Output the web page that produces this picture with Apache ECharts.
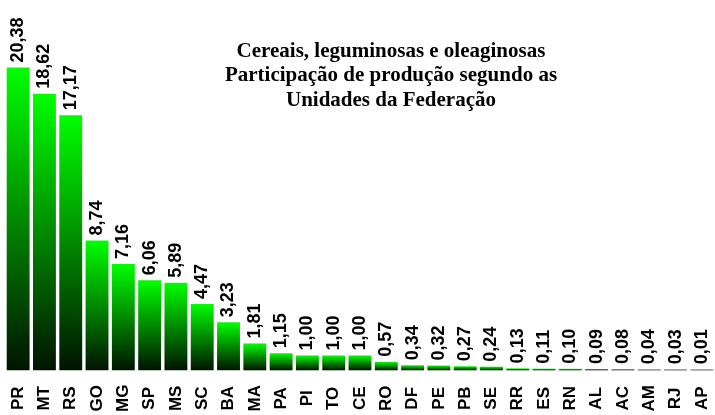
<!DOCTYPE html>
<html><head><meta charset="utf-8">
<script src="https://cdn.jsdelivr.net/npm/echarts@6/dist/echarts.min.js"></script>
<style>html,body{margin:0;padding:0;background:#fff}#c{width:715px;height:415px}</style>
</head><body><div id="c"></div>
<script>
var categories = ['PR','MT','RS','GO','MG','SP','MS','SC','BA','MA','PA','PI','TO','CE','RO','DF','PE','PB','SE','RR','ES','RN','AL','AC','AM','RJ','AP'];
var values = [20.38,18.62,17.17,8.74,7.16,6.06,5.89,4.47,3.23,1.81,1.15,1.00,1.00,1.00,0.57,0.34,0.32,0.27,0.24,0.13,0.11,0.10,0.09,0.08,0.04,0.03,0.01];
var titleLines = ['Cereais, leguminosas e oleaginosas','Participação de produção segundo as','Unidades da Federação'];

var chart = echarts.init(document.getElementById('c'));
chart.setOption({
  animation: false,
  backgroundColor: '#ffffff',
  title: {
    text: titleLines.join('\n'),
    left: 386, top: 34, textAlign: 'center',
    textStyle: { fontFamily: '"Liberation Serif","Times New Roman",serif', fontWeight: 'bold', fontSize: 21, lineHeight: 24.5, color: '#000' }
  },
  grid: { left: 5, top: 0, width: 716, height: 372, containLabel: false },
  xAxis: {
    type: 'category', data: categories,
    axisLine: { show: false }, axisTick: { show: false },
    axisLabel: { rotate: 90, margin: 28, align: 'center', verticalAlign: 'middle', interval: 0,
      fontFamily: '"Liberation Sans",Arial,sans-serif', fontWeight: 'bold', fontSize: 17, color: '#000' }
  },
  yAxis: { type: 'value', min: 0, max: 24.93, show: false, splitLine: { show: false } },
  series: [{
    type: 'bar', data: values, barCategoryGap: '13%', barMinHeight: 1,
    itemStyle: { color: new echarts.graphic.LinearGradient(0, 0, 0, 1, [
      { offset: 0, color: '#00ff00' }, { offset: 1, color: '#001400' }]) },
    label: { show: true, position: 'top', rotate: 90, distance: 5, align: 'left', verticalAlign: 'middle',
      fontFamily: '"Liberation Sans",Arial,sans-serif', fontWeight: 'bold', fontSize: 18, color: '#000',
      formatter: function (p) { return p.value.toFixed(2).replace('.', ','); } }
  }]
});
</script></body></html>
